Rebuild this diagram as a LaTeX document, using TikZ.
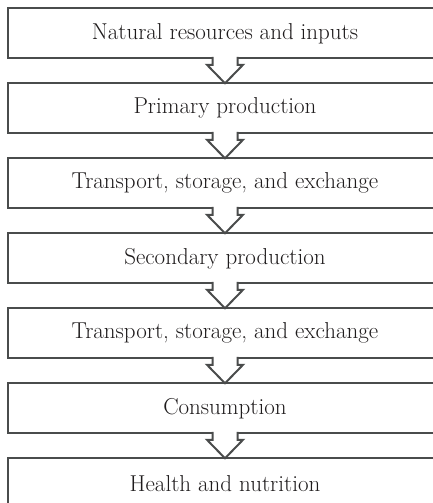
\documentclass[tikz,border=0pt]{standalone}
\usepackage{tikz}
\usetikzlibrary{positioning,calc}
\usepackage{xcolor}
\definecolor{linegray}{RGB}{74,76,76}
\definecolor{textdark}{RGB}{30,27,28}

\begin{document}
\begin{tikzpicture}[node distance=25pt]
    \tikzstyle{stage} = [rectangle, draw=linegray, line width=2pt, outer sep=0pt, inner sep=0pt, minimum width=435pt, minimum height=50pt, text=textdark, font=\fontsize{23}{27}\selectfont]
    \tikzstyle{flow} = [draw=linegray, fill=white, line width=2pt, line join=miter]
    \useasboundingbox (0,0) rectangle (433pt,-503pt);
    \clip (0,0) rectangle (433pt,-503pt);
    \node[stage] (inputs) at (225pt,-33.3pt) {Natural resources and inputs};
    \node[stage, below=of inputs] (primary) {Primary production};
    \node[stage, below=of primary] (transportA) {Transport, storage, and exchange};
    \node[stage, below=of transportA] (secondary) {Secondary production};
    \node[stage, below=of secondary] (transportB) {Transport, storage, and exchange};
    \node[stage, below=of transportB] (consumption) {Consumption};
    \node[stage, below=of consumption] (health) {Health and nutrition};
    % hollow block arrows between stages
    \foreach \a/\b in {inputs/primary, primary/transportA, transportA/secondary, secondary/transportB, transportB/consumption, consumption/health}
        \filldraw[flow] ($(\a.south)+(-12.5pt,1.5pt)$) -- ($(\a.south)+(-12.5pt,-6.5pt)$) -- ($(\a.south)+(-18pt,-6.5pt)$) -- (\b.north) -- ($(\a.south)+(18pt,-6.5pt)$) -- ($(\a.south)+(12.5pt,-6.5pt)$) -- ($(\a.south)+(12.5pt,1.5pt)$);
\end{tikzpicture}
\end{document}
